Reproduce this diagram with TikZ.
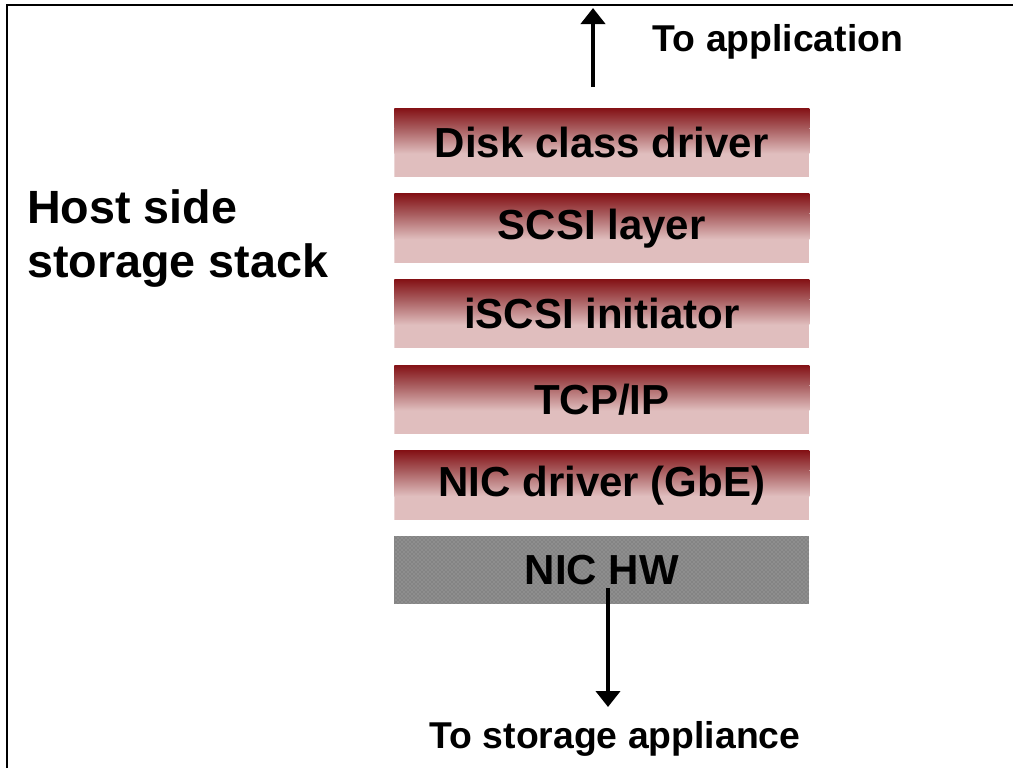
\documentclass[tikz,border=0pt]{standalone}
\usepackage{fontspec}
\setmainfont{Liberation Sans}
\usetikzlibrary{arrows.meta,patterns}
\definecolor{redc}{RGB}{132,18,22}
\definecolor{midc}{RGB}{168,92,94}
\definecolor{pinkc}{RGB}{224,190,190}
\definecolor{hwgray}{RGB}{132,132,132}
\definecolor{hwdot}{RGB}{176,176,176}
\tikzset{
  layerbox/.style={minimum width=311.25pt, minimum height=51.75pt, inner sep=0pt, anchor=north west,
    font=\bfseries\fontsize{31.5}{36}\selectfont,
    path picture={
      \fill[pinkc] (path picture bounding box.south west) rectangle (path picture bounding box.north east);
      \shade[top color=redc, bottom color=midc] (path picture bounding box.north west) rectangle ([yshift=-15pt]path picture bounding box.north east);
      \shade[top color=midc, bottom color=pinkc] ([yshift=-15pt]path picture bounding box.north west) rectangle ([yshift=-34pt]path picture bounding box.north east);
    }},
  hwbox/.style={minimum width=311.25pt, minimum height=50.5pt, inner sep=0pt, anchor=north west,
    fill=hwgray, postaction={pattern=crosshatch dots, pattern color=hwdot}, font=\bfseries\fontsize{31.5}{36}\selectfont},
  arrowlabel/.style={font=\bfseries\fontsize{28}{32}\selectfont, inner sep=0pt, anchor=base},
  hostlabel/.style={font=\bfseries\fontsize{35}{40}\selectfont, inner sep=0pt, anchor=base west},
  flow/.style={line width=3pt, -{Triangle[width=18pt,length=12pt]}},
  frame/.style={line width=1.6pt}
}
\begin{document}
\begin{tikzpicture}[x=0.75pt,y=-0.75pt]
\useasboundingbox (0,0) rectangle (1013,768);
\coordinate (fa) at (7,768);
\coordinate (fb) at (7,5);
\coordinate (fc) at (1013,5);
\draw[frame] (fa) -- (fb) -- (fc);

\node[layerbox] (disk) at (394,108) {Disk class driver};
\node[layerbox] (scsi) at (394,193.6) {SCSI layer};
\node[layerbox] (iscsi) at (394,279.2) {iSCSI initiator};
\node[layerbox] (tcp) at (394,364.8) {TCP/IP};
\node[layerbox] (nic) at (394,450.4) {NIC driver (GbE)};
\node[hwbox] (hw) at (394,536) {NIC HW};

\node[hostlabel] (host1) at (27,223) {Host side};
\node[hostlabel] (host2) at (27,277) {storage stack};

\node[arrowlabel] (toapp) at (778,51) {To application};
\node[arrowlabel] (tostor) at (615,748) {To storage appliance};

\coordinate (upS) at (593,87);
\coordinate (upE) at (593,8);
\draw[flow] (upS) -- (upE);
\coordinate (dnS) at (608,588);
\coordinate (dnE) at (608,707);
\draw[flow] (dnS) -- (dnE);
\end{tikzpicture}
\end{document}
